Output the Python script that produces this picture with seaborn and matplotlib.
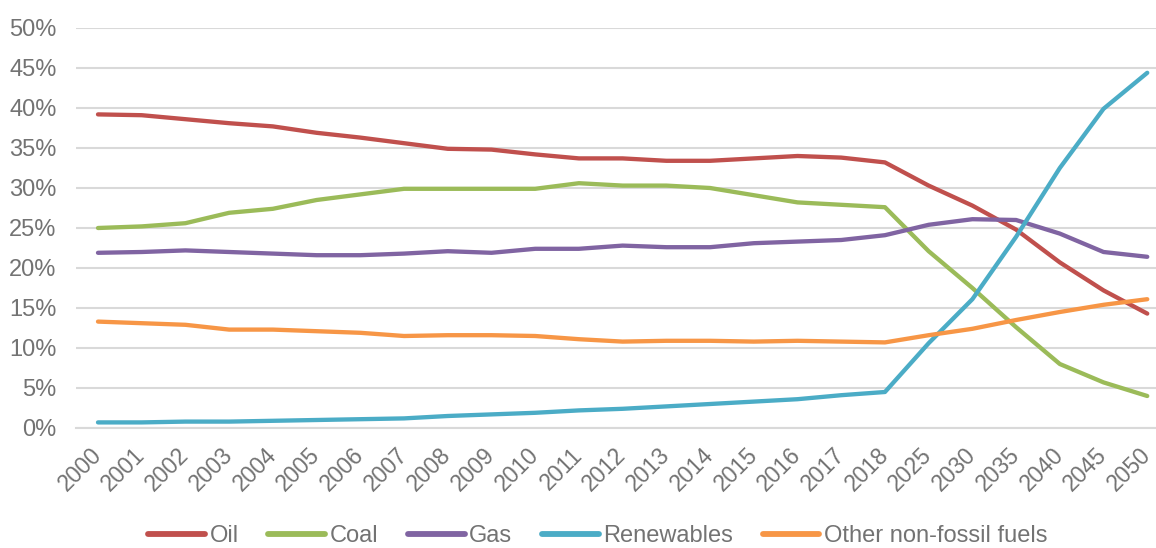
import numpy as np
import pandas as pd
import matplotlib
matplotlib.use("Agg")
import matplotlib.pyplot as plt
import seaborn as sns

years = ["2000", "2001", "2002", "2003", "2004", "2005", "2006", "2007", "2008", "2009",
         "2010", "2011", "2012", "2013", "2014", "2015", "2016", "2017", "2018",
         "2025", "2030", "2035", "2040", "2045", "2050"]
oil = [39.2, 39.1, 38.6, 38.1, 37.7, 36.9, 36.3, 35.6, 34.9, 34.8, 34.2, 33.7, 33.7, 33.4,
       33.4, 33.7, 34.0, 33.8, 33.2, 30.3, 27.8, 24.8, 20.7, 17.2, 14.3]
coal = [25.0, 25.2, 25.6, 26.9, 27.4, 28.5, 29.2, 29.9, 29.9, 29.9, 29.9, 30.6, 30.3, 30.3,
        30.0, 29.1, 28.2, 27.9, 27.6, 22.1, 17.5, 12.6, 8.0, 5.7, 4.0]
gas = [21.9, 22.0, 22.2, 22.0, 21.8, 21.6, 21.6, 21.8, 22.1, 21.9, 22.4, 22.4, 22.8, 22.6,
       22.6, 23.1, 23.3, 23.5, 24.1, 25.4, 26.1, 26.0, 24.3, 22.0, 21.4]
renewables = [0.7, 0.7, 0.8, 0.8, 0.9, 1.0, 1.1, 1.2, 1.5, 1.7, 1.9, 2.2, 2.4, 2.7, 3.0,
              3.3, 3.6, 4.1, 4.5, 10.6, 16.1, 23.9, 32.5, 39.9, 44.4]
other = [13.3, 13.1, 12.9, 12.3, 12.3, 12.1, 11.9, 11.5, 11.6, 11.6, 11.5, 11.1, 10.8, 10.9,
         10.9, 10.8, 10.9, 10.8, 10.7, 11.6, 12.4, 13.5, 14.5, 15.4, 16.1]
series_names = ["Oil", "Coal", "Gas", "Renewables", "Other non-fossil fuels"]
colors = ["#C0504D", "#9BBB59", "#8064A2", "#4BACC6", "#F79646"]
ytick_vals = [0, 5, 10, 15, 20, 25, 30, 35, 40, 45, 50]

rows = []
for name, vals in zip(series_names, [oil, coal, gas, renewables, other]):
    for i, (y, v) in enumerate(zip(years, vals)):
        rows.append({"pos": i, "year": y, "share": v / 100.0, "series": name})
df = pd.DataFrame(rows)

sns.set_style("white")
plt.rcParams["font.family"] = ["Liberation Sans", "DejaVu Sans"]
text_color = "#737373"

fig = plt.figure(figsize=(11.56, 5.48), dpi=100)
ax = fig.add_axes([76 / 1156, 1 - 428 / 548, 1 - 76 / 1156, (428 - 28) / 548])

sns.lineplot(data=df, x="pos", y="share", hue="series", hue_order=series_names,
             palette=colors, linewidth=3.1, ax=ax, legend=True, sort=False)
for ln in ax.get_lines():
    ln.set_solid_capstyle("round")
    ln.set_solid_joinstyle("round")

ax.set_ylim(0, 0.5)
ax.set_xlim(-0.503, 24.2)
ax.set_yticks([v / 100 for v in ytick_vals])
ax.set_yticklabels([f"{v}%" for v in ytick_vals])
ax.set_xticks(range(len(years)))
ax.set_xticklabels(years, rotation=45, ha="right", va="center", rotation_mode="anchor")
ax.tick_params(axis="both", length=0, colors=text_color)
ax.tick_params(axis="y", labelsize=17, pad=14)
ax.tick_params(axis="x", labelsize=16.5, pad=17)
ax.set_xlabel("")
ax.set_ylabel("")
ax.yaxis.grid(True, color="#D9D9D9", linewidth=1.5)
ax.set_axisbelow(True)
for s in ["top", "right", "left"]:
    ax.spines[s].set_visible(False)
ax.spines["bottom"].set_color("#D9D9D9")
ax.spines["bottom"].set_linewidth(1.5)

handles, labels = ax.get_legend_handles_labels()
ax.legend_.remove()
for h in handles:
    h.set_linewidth(4.2)
    h.set_solid_capstyle("round")
fig.legend(handles, labels, loc="center", bbox_to_anchor=(598 / 1156, 1 - 536 / 548), ncol=5,
           frameon=False, fontsize=17, handlelength=2.4, handletextpad=0.2,
           columnspacing=1.25, labelcolor=text_color)

fig.savefig("out.png", dpi=100)
